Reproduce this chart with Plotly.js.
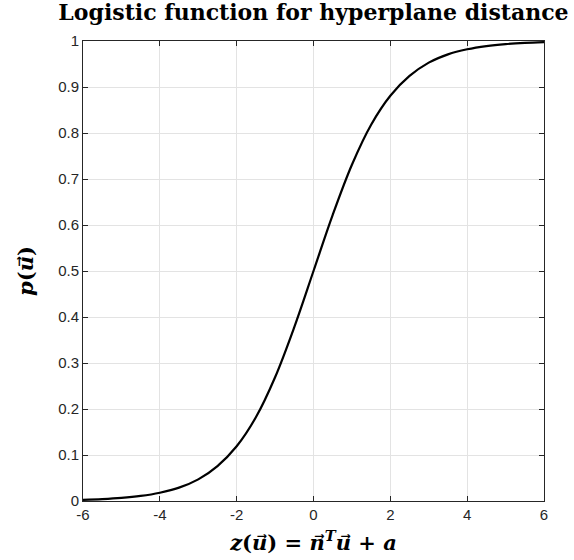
<!DOCTYPE html>
<html>
<head>
<meta charset="utf-8">
<script src="https://cdn.plot.ly/plotly-3.0.1.min.js"></script>
<style>html,body{margin:0;padding:0;background:#fff;}#chart{width:574px;height:560px;}</style>
</head>
<body>
<div id="chart"></div>
<script>
const zValues = [-6, -5.5, -5, -4.5, -4, -3.5, -3, -2.5, -2, -1.5, -1, -0.5, 0, 0.5, 1, 1.5, 2, 2.5, 3, 3.5, 4, 4.5, 5, 5.5, 6];
const pValues = [0.0025, 0.0041, 0.0067, 0.011, 0.018, 0.029, 0.047, 0.076, 0.119, 0.182, 0.269, 0.378, 0.5, 0.622, 0.731, 0.818, 0.881, 0.924, 0.953, 0.971, 0.982, 0.989, 0.9933, 0.9959, 0.9975];
const xTicks = [-6, -4, -2, 0, 2, 4, 6];
const yTicks = [0, 0.1, 0.2, 0.3, 0.4, 0.5, 0.6, 0.7, 0.8, 0.9, 1];
const yTickText = ['0', '0.1', '0.2', '0.3', '0.4', '0.5', '0.6', '0.7', '0.8', '0.9', '1'];

const ARROW = '<span style="font-family:DejaVu Sans">\u20D7</span>';
const vec = (c) => '<i>' + c + '</i>' + ARROW;

const axisCommon = {
  showgrid: true, gridcolor: '#e3e3e3', gridwidth: 1,
  showline: true, linecolor: '#262626', linewidth: 1, mirror: 'ticks',
  ticks: 'inside', ticklen: 5, tickcolor: '#262626', tickwidth: 1,
  zeroline: false,
  tickfont: {family: 'Liberation Sans, Arial, sans-serif', size: 15, color: '#262626'}
};

Plotly.newPlot('chart', [{
  x: zValues, y: pValues, type: 'scatter', mode: 'lines',
  line: {color: '#000', width: 2.2, shape: 'spline', smoothing: 1},
  hoverinfo: 'none'
}], {
  width: 574, height: 560,
  margin: {l: 83, r: 30, t: 41, b: 59},
  paper_bgcolor: '#fff', plot_bgcolor: '#fff',
  showlegend: false,
  title: {
    text: '<b>Logistic function for hyperplane distance</b>',
    font: {family: 'DejaVu Serif, serif', size: 22, color: '#000'},
    x: 0.5, xref: 'paper', xanchor: 'center',
    y: 1, yref: 'container', yanchor: 'top', pad: {t: 5}
  },
  xaxis: Object.assign({}, axisCommon, {
    range: [-6, 6], tickvals: xTicks, ticktext: xTicks.map(String),
    title: {text: '<b><i>z</i>(' + vec('u') + ') = ' + vec('n') + '<sup><i>T</i></sup>' + vec('u') + ' + <i>a</i></b>',
      font: {family: 'DejaVu Serif, serif', size: 21, color: '#000'}, standoff: 13}
  }),
  yaxis: Object.assign({}, axisCommon, {
    range: [0, 1], tickvals: yTicks, ticktext: yTickText,
    title: {text: '<b><i>p</i>(' + vec('u') + ')</b>',
      font: {family: 'DejaVu Serif, serif', size: 21, color: '#000'}, standoff: 18}
  })
}, {staticPlot: true});
</script>
</body>
</html>
